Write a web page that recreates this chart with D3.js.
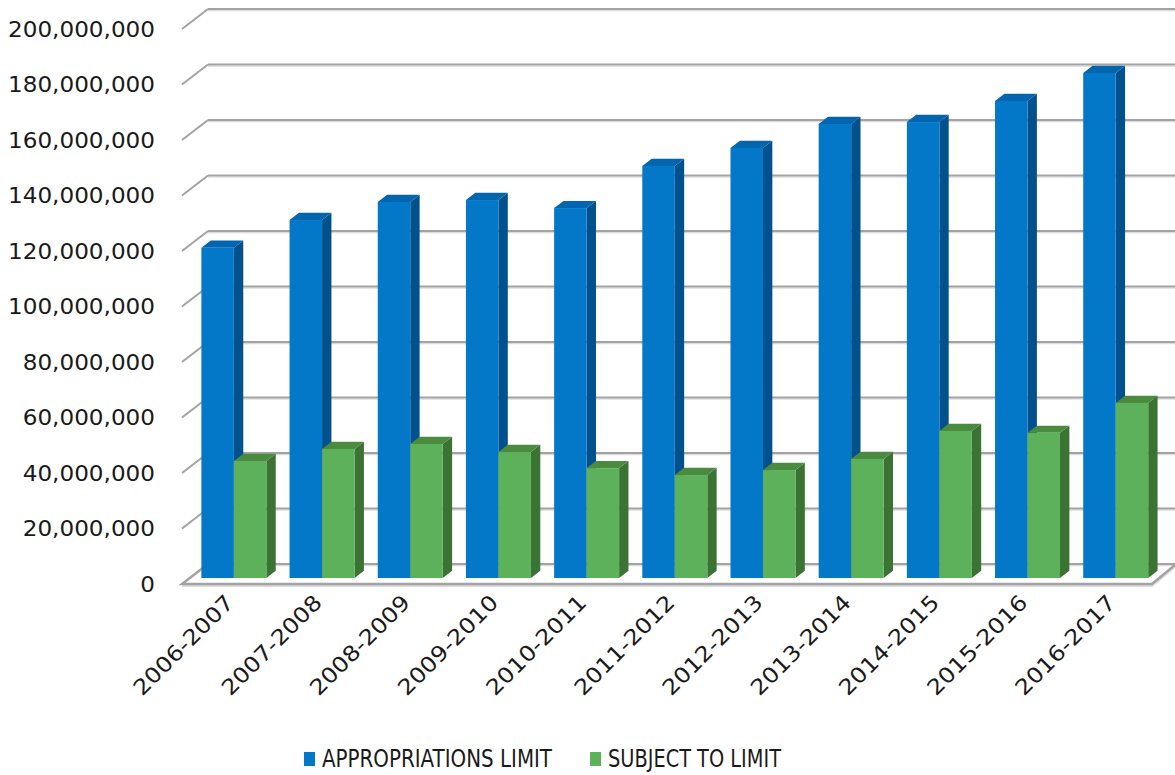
<!DOCTYPE html>
<html><head><meta charset="utf-8">
<script src="https://cdn.jsdelivr.net/npm/d3@7"></script>
<style>body{margin:0;background:#fff;} svg{display:block;}</style>
</head><body>
<svg id="c" width="1175" height="775"></svg>
<script>
const categories = ["2006-2007","2007-2008","2008-2009","2009-2010","2010-2011","2011-2012","2012-2013","2013-2014","2014-2015","2015-2016","2016-2017"];
const seriesNames = ["APPROPRIATIONS LIMIT","SUBJECT TO LIMIT"];
const appropriationsLimit = [119000000,129000000,135500000,136200000,133300000,148500000,155000000,163600000,164300000,171900000,182000000];
const subjectToLimit = [42200000,46500000,48300000,45400000,39600000,37100000,38900000,42900000,53000000,52300000,63100000];
const yTicks = [0,20000000,40000000,60000000,80000000,100000000,120000000,140000000,160000000,180000000,200000000];

const svg = d3.select("#c");
const FONT = "DejaVu Sans";
// 3D geometry: front plane + depth vector
const X0 = 182, X1 = 1152;
const DX = 26, DY = -20;           // full depth offset (front -> back wall)
const barFront = 0.3, barBack = 0.66; // depth fractions of bars

const y = d3.scaleLinear().domain([0, 200000000]).range([584, 29]);
const x = d3.scaleBand().domain(categories).range([X0, X1]).paddingInner(0.263).paddingOuter(0.1315);
const xs = d3.scaleBand().domain(seriesNames).range([0, x.bandwidth()]);
const color = d3.scaleOrdinal().domain(seriesNames).range(["#0378c9","#5cb15a"]);
const topCol = d3.scaleOrdinal().domain(seriesNames).range(["#0365ad","#4a8b40"]);
const sideCol = d3.scaleOrdinal().domain(seriesNames).range(["#01528c","#3b7334"]);

// back wall gridlines
const g = svg.append("g");
yTicks.forEach(t => {
  const yy = y(t) + DY;
  g.append("line").attr("x1", X0 + DX).attr("x2", 1175).attr("y1", yy + 1.6).attr("y2", yy + 1.6)
    .attr("stroke", "#dcdcdc").attr("stroke-width", 1.4);
  g.append("line").attr("x1", X0 + DX).attr("x2", 1175).attr("y1", yy).attr("y2", yy)
    .attr("stroke", "#a3a3a3").attr("stroke-width", 2);
  if (t > 0) {
    g.append("line").attr("x1", X0).attr("y1", y(t)).attr("x2", X0 + DX).attr("y2", yy)
      .attr("stroke", "#a3a3a3").attr("stroke-width", 2);
  }
});
// floor
const y0 = y(0);
g.append("path")
  .attr("d", `M${X0},${y0} L${X1},${y0} L${X1 + DX - 3},${y0 + DY + 1}`)
  .attr("fill", "none").attr("stroke", "#dadada").attr("stroke-width", 2).attr("transform", "translate(0,2)");
g.append("path")
  .attr("d", `M${X0 + DX},${y0 + DY} L${X0},${y0} L${X1},${y0} L${X1 + DX - 3},${y0 + DY + 1}`)
  .attr("fill", "none").attr("stroke", "#a3a3a3").attr("stroke-width", 2.5);

// bars
const fx = barFront * DX, fy = barFront * DY;
const dX = (barBack - barFront) * DX, dY = (barBack - barFront) * DY;
const data = [];
categories.forEach((c, i) => {
  data.push({cat: c, s: seriesNames[0], v: appropriationsLimit[i]});
  data.push({cat: c, s: seriesNames[1], v: subjectToLimit[i]});
});
const bars = svg.append("g").selectAll("g").data(data).join("g");
bars.each(function(d) {
  const el = d3.select(this);
  const xl = x(d.cat) + xs(d.s) + fx;
  const w = xs.bandwidth();
  const yt = y(d.v) + fy, yb = y(0) + fy;
  el.append("path").attr("d", `M${xl + w},${yb} L${xl + w + dX},${yb + dY} L${xl + w + dX},${yt + dY} L${xl + w},${yt} Z`)
    .attr("fill", sideCol(d.s));
  el.append("path").attr("d", `M${xl},${yt} L${xl + dX},${yt + dY} L${xl + w + dX},${yt + dY} L${xl + w},${yt} Z`)
    .attr("fill", topCol(d.s));
  el.append("rect").attr("x", xl).attr("y", yt).attr("width", w).attr("height", yb - yt)
    .attr("fill", color(d.s));
});

// y labels
const yl = svg.append("g");
yTicks.forEach(t => {
  const txt = yl.append("text").attr("x", 155).attr("y", y(t) + 7.5)
    .attr("text-anchor", "end").attr("font-family", FONT).attr("font-size", 21).attr("fill", "#1a1a1a")
    .text(d3.format(",")(t));
  const n = txt.node().getComputedTextLength();
  txt.attr("textLength", n * 1.1).attr("lengthAdjust", "spacingAndGlyphs");
});

// x labels
const xl = svg.append("g");
categories.forEach((c, i) => {
  const px = X0 + (i + 0.5) * x.step() + 9, py = 604;
  const txt = xl.append("text").attr("transform", `translate(${px},${py}) rotate(-45)`)
    .attr("text-anchor", "end").attr("font-family", FONT).attr("font-size", 21.5).attr("fill", "#1a1a1a")
    .text(c);
  const n = txt.node().getComputedTextLength();
  txt.attr("textLength", n * 1.12).attr("lengthAdjust", "spacingAndGlyphs");
});

// legend
const lg = svg.append("g");
const legendX = [304, 590], legendW = [230, 173];
seriesNames.forEach((s, i) => {
  lg.append("rect").attr("x", legendX[i]).attr("y", 752).attr("width", 11).attr("height", 14).attr("fill", color(s));
  lg.append("text").attr("x", legendX[i] + 18).attr("y", 767)
    .attr("font-family", FONT).attr("font-size", 24).attr("fill", "#1a1a1a")
    .attr("textLength", legendW[i]).attr("lengthAdjust", "spacingAndGlyphs").text(s);
});
</script>
</body></html>
